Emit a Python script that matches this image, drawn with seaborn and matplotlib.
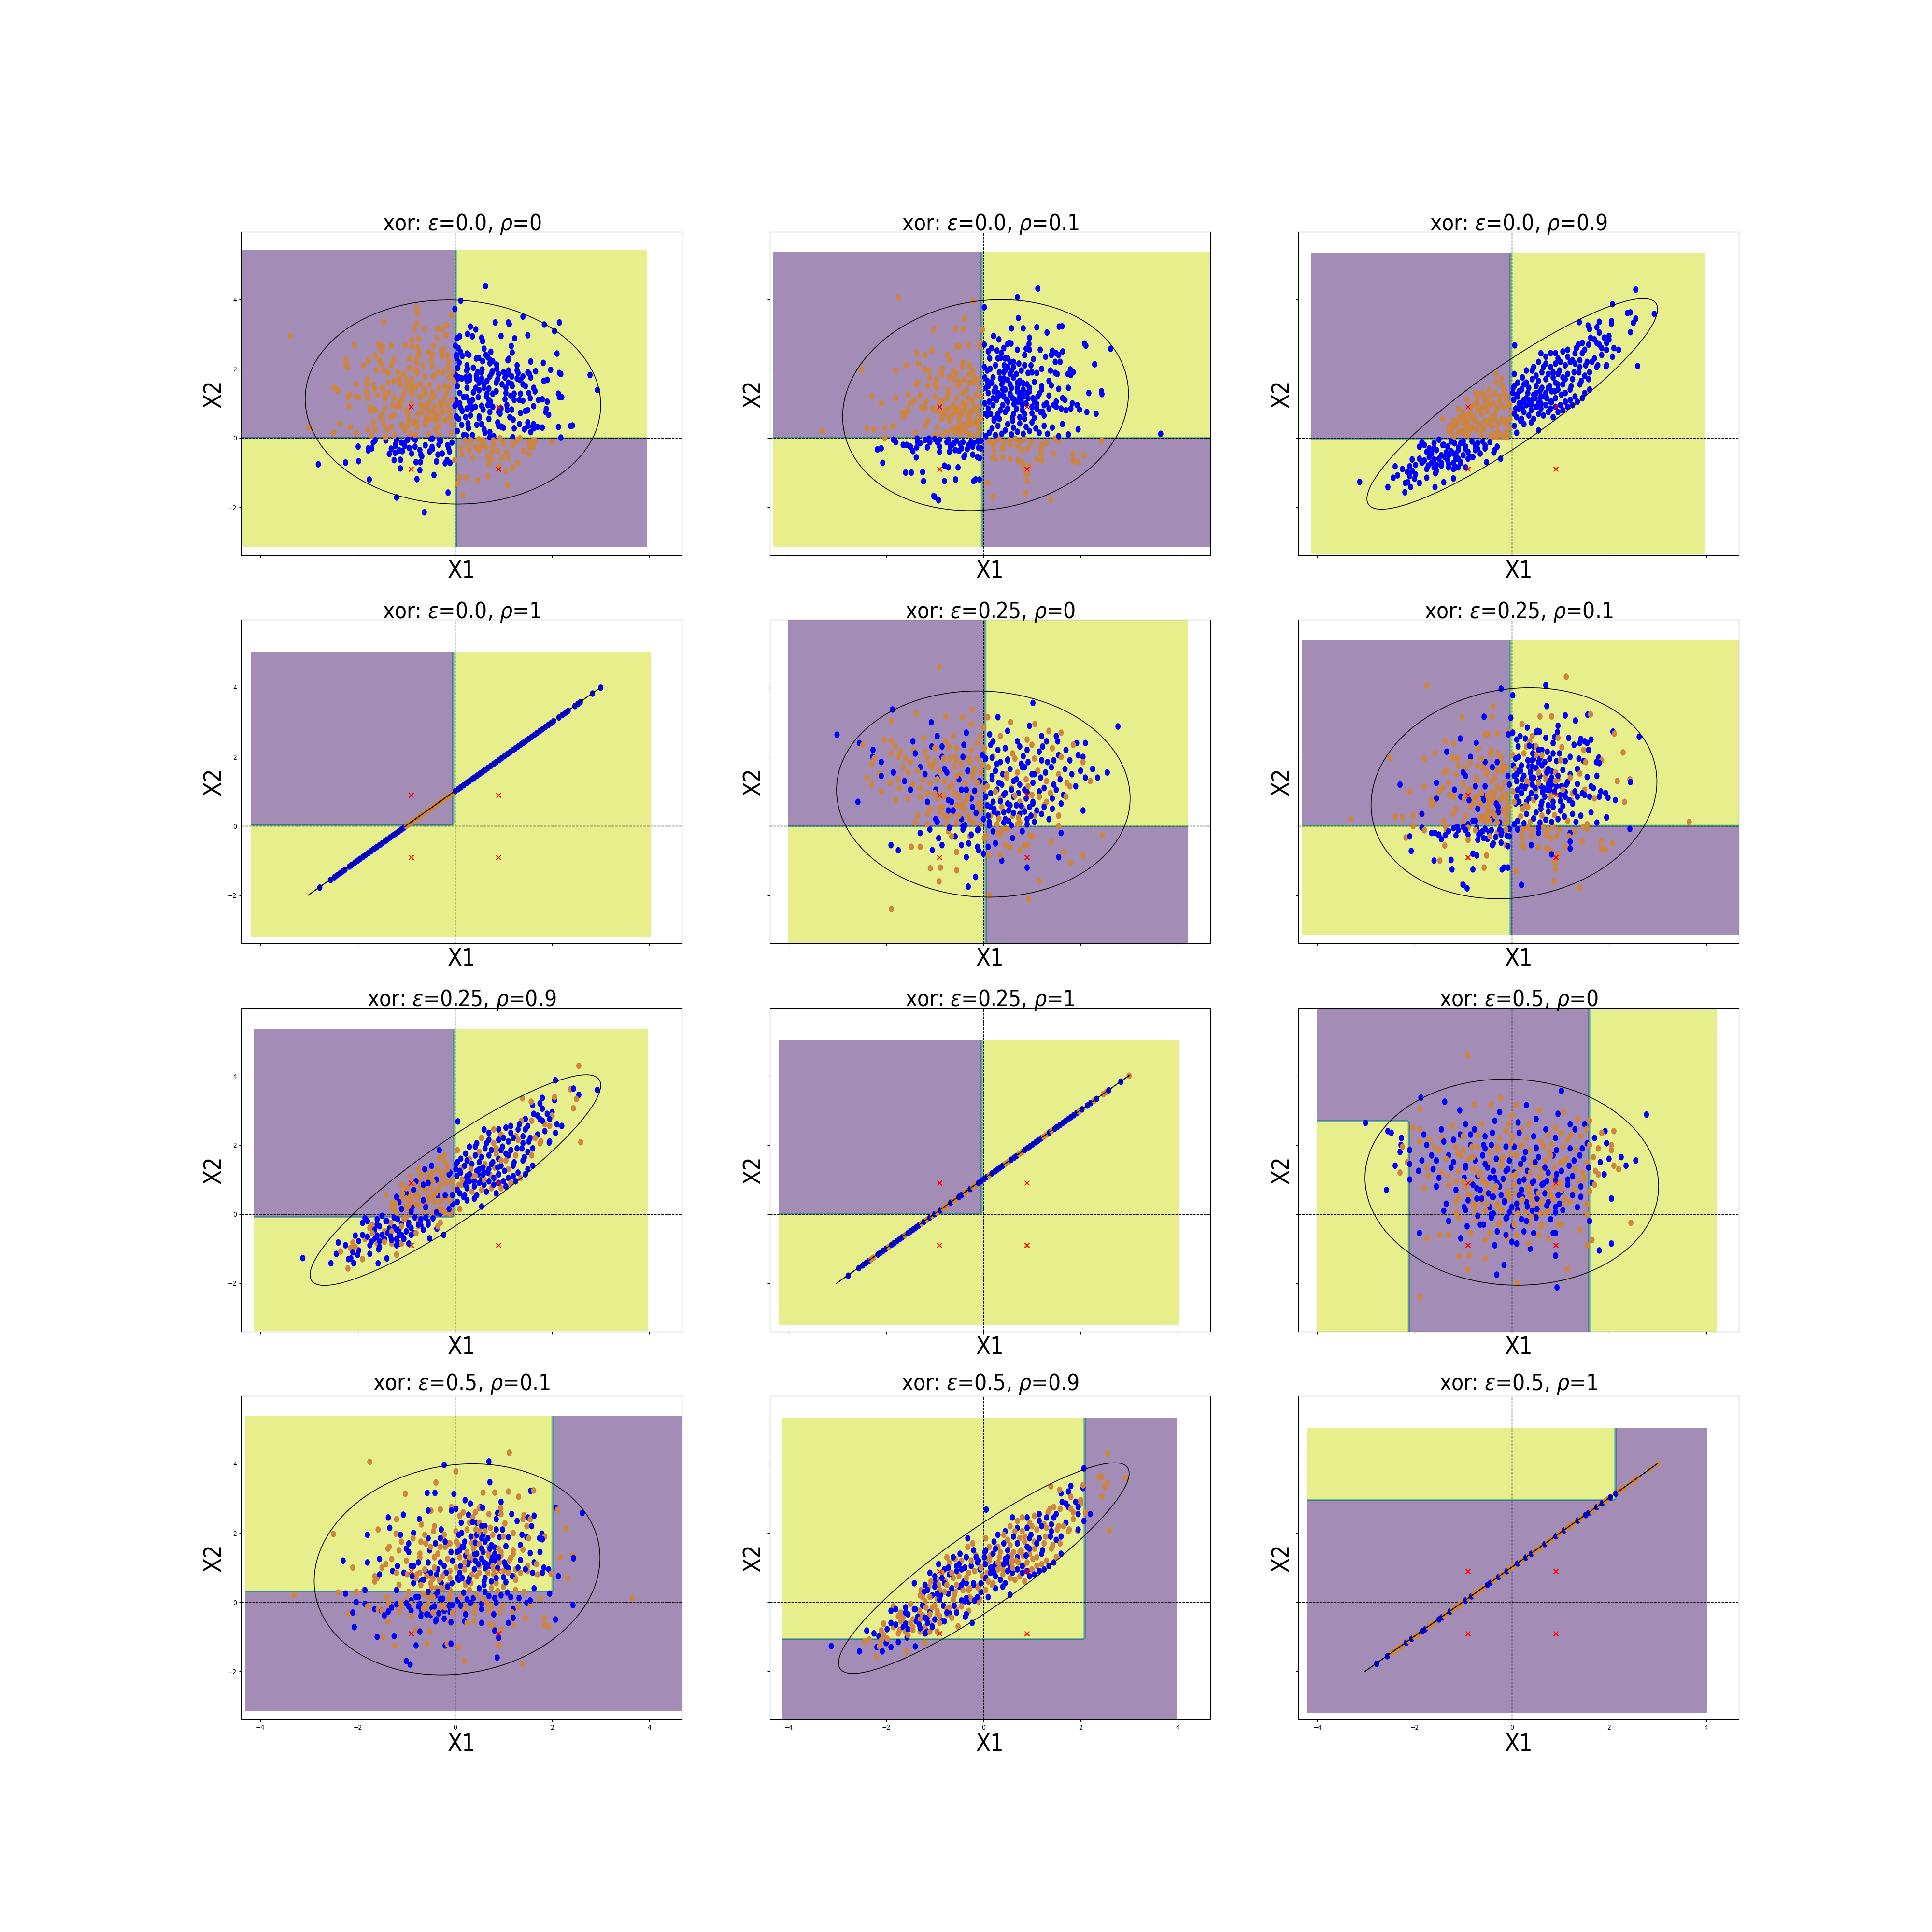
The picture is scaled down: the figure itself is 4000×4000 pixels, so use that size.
import numpy as np
import matplotlib
matplotlib.use("Agg")
import matplotlib.pyplot as plt
import seaborn as sns
from matplotlib.markers import MarkerStyle
from matplotlib.patches import Ellipse
from matplotlib.transforms import Affine2D

plt.rcParams['font.family'] = ['DejaVu Sans']
plt.rcParams['font.stretch'] = 'condensed'
plt.rcParams['mathtext.fontset'] = 'custom'
plt.rcParams['mathtext.rm'] = 'DejaVu Sans:stretch=condensed'
plt.rcParams['mathtext.it'] = 'DejaVu Sans:italic:stretch=condensed'

titles = [r"xor: $\epsilon$=0.0, $\rho$=0", r"xor: $\epsilon$=0.0, $\rho$=0.1", r"xor: $\epsilon$=0.0, $\rho$=0.9",
          r"xor: $\epsilon$=0.0, $\rho$=1", r"xor: $\epsilon$=0.25, $\rho$=0", r"xor: $\epsilon$=0.25, $\rho$=0.1",
          r"xor: $\epsilon$=0.25, $\rho$=0.9", r"xor: $\epsilon$=0.25, $\rho$=1", r"xor: $\epsilon$=0.5, $\rho$=0",
          r"xor: $\epsilon$=0.5, $\rho$=0.1", r"xor: $\epsilon$=0.5, $\rho$=0.9", r"xor: $\epsilon$=0.5, $\rho$=1"]

# Panel 1: points
p1_blue_x = [.63,.12,0,1.4,2.15,1.84,1.1,1.12,.83,.32,.43,2.05,.26,.36,.1,.04,.55,.57,.95,1.23,1.5,1.16,.6,.01,.07,.11,.74,.25,.29,1.18,2.1,.64,.68,.03,.04,.15,.44,.49,1.11,1.09,.57,.73,.78,1.56,1.82,.09,.72,.86,1.28,.06,.25,
 .26,.24,.38,.47,.56,.55,.77,.76,.86,.9,1.0,1.1,1.1,1.28,1.3,1.5,1.53,1.66,1.97,2.15,2.18,2.78,
 .01,.08,.05,.14,.22,.3,.25,.3,.44,.45,.5,.55,.6,.66,.72,.88,.85,.97,1.03,1.1,1.17,1.28,1.34,1.4,1.56,1.4,1.45,1.83,1.9,1.17,
 .05,.25,.43,.5,.6,.7,.38,.66,.78,.85,.02,.1,.18,.24,.3,.36,.48,.65,.7,.73,1.05,1.05,1.18,1.15,1.22,1.22,1.35,1.33,1.4,1.52,1.55,1.62,1.65,1.72,1.8,1.9,2.13,2.15,2.2,2.93,.1,1.03,
 0,.05,.12,.15,.25,.32,.35,.32,.42,.55,.58,.5,.68,.72,.78,.9,.93,.95,1.07,1.08,1.17,1.13,1.2,1.35,1.5,1.45,1.62,1.87,1.88,1.93,.03,.08,.22,.5,.7,1.5,
 .05,.14,.27,.28,.45,.55,.6,.62,.72,.88,.9,.95,1.0,1.22,1.33,1.43,1.5,1.6,1.62,1.56,1.62,1.7,1.8,2.13,2.42,2.38,.18,.23,.36,.72,.8,2.18,1.19,
 -.06,-.32,-.29,-.46,-.5,-.81,-.85,-.97,-1.2,-1.42,-1.64,-1.68,-1.99,-1.78,-1.71,-1.78,-1.1,-1.03,-1.22,-1.22,-1.03,-.94,-.82,-1.31,-1.14,-1.08,-1.35,-1.23,-.89,-.72,-.7,-.68,-.61,-.47,-.46,-.52,-.33,-.15,-.13,-.11,-.26,-.35,-1.25,-1.12,-.8,-.71,-.38,-.2,-.16,-.1,-1.98,-2.25,-2.81,-1.12,-.72,-.43,-.78,-1.76,-.14,-1.2,-.63]
p1_blue_y = [4.39,3.97,3.73,3.51,3.34,3.28,3.34,3.29,3.34,3.22,3.14,3.09,3.01,2.94,2.94,2.88,2.9,2.8,2.95,2.88,2.97,2.66,2.58,2.67,2.6,2.5,2.49,2.44,2.4,2.47,2.44,2.4,2.33,2.39,2.31,2.37,2.3,2.32,2.29,2.25,2.22,2.25,2.22,2.21,2.17,2.18,2.16,2.12,2.1,2.02,2.1,
 2.0,1.95,2.03,1.9,1.98,1.9,1.93,1.88,2.0,1.85,1.9,1.85,1.95,1.95,1.88,1.9,1.86,1.93,1.97,1.88,1.85,1.82,
 1.83,1.75,1.7,1.72,1.75,1.78,1.65,1.68,1.8,1.7,1.6,1.72,1.55,1.65,1.78,1.7,1.6,1.55,1.75,1.6,1.78,1.72,1.68,1.78,1.75,1.55,1.5,1.65,1.68,1.55,
 1.5,1.45,1.45,1.38,1.45,1.43,1.32,1.28,1.28,1.35,1.1,1.3,1.18,1.18,1.05,1.1,1.18,1.2,1.1,1.05,1.45,1.3,1.5,1.22,1.28,1.1,1.28,1.1,1.08,1.3,1.15,1.45,1.35,1.1,1.12,1.05,1.28,1.18,1.18,1.39,1.0,1.12,
 .93,.98,.87,.78,.85,.95,.85,.65,.9,.93,.82,.62,.95,.75,.9,.75,.7,.85,.95,.8,.82,.6,.53,.72,.8,.78,.92,.75,.84,.67,.62,.55,.6,.57,.55,.45,
 .2,.38,.42,.28,.38,.4,.25,.15,.17,.45,.35,.33,.3,.28,.4,.25,.35,.33,.4,.17,.28,.32,.3,.32,.36,.35,.08,.07,.08,.02,.05,.01,.02,
 -.13,-.04,-.09,-.02,-.02,-.05,-.02,-.05,-.05,-.07,-.07,-.13,-.25,-.3,-.3,-.36,-.13,-.13,-.18,-.23,-.23,-.29,-.25,-.31,-.36,-.38,-.46,-.43,-.45,-.35,-.48,-.53,-.21,-.26,-.32,-.39,-.19,-.21,-.29,-.39,-.45,-.48,-.64,-.63,-.7,-.7,-.68,-.73,-.64,-.72,-.67,-.71,-.76,-.88,-.93,-1.07,-1.19,-1.2,-1.58,-1.72,-2.15]
p1_orange_x = [-3.39,-3.0,-2.5,-.79,-.77,-.07,-1.46,-.78,-.17,-.84,-.62,-.36,-.26,-.18,-.36,-.75,-.89,-2.07,-1.58,-1.49,-1.31,-1.02,-.88,-.77,-.44,-1.51,-.75,-.55,-.27,-.24,-1.64,-.74,-.46,-.27,-.16,-2.24,-1.78,-1.56,-1.26,-.94,-.79,-.49,-.12,-2.24,-2.21,-1.87,-1.51,-1.31,-.78,-1.61,-1.46,-1.37,-1.17,-.94,-.82,-.64,-.46,-.15,-1.06,-.76,-.35,-.24,-.06,-1.79,-1.15,-1.0,-.88,-.61,-.44,-.12,-1.82,-2.03,-1.67,-1.37,-1.25,-1.12,-.91,-.7,-.52,-.21,-.03,-2.48,-2.41,-1.65,-1.49,-.82,-.64,-.33,-.12,-1.82,-1.37,-1.06,-.88,-.46,-2.17,-2.19,-2.02,-1.98,-1.79,-1.79,-1.59,-1.43,-1.43,-1.25,-1.09,-.7,-.49,-.21,-.06,-2.18,-1.74,-1.74,-1.64,-1.44,-1.28,-1.12,-.64,-.27,-1.52,-1.52,-1.32,-1.25,-.97,-.76,-.46,-.24,-.09,-2.37,-2.15,-1.67,-1.46,-1.31,-1.09,-.97,-.78,-.78,-.61,-.4,-.33,-.06,-1.79,-1.65,-1.39,-1.03,-2.03,-1.71,-1.43,-1.25,-.92,-.82,-.55,-.33,-.08,
 -1.0,-.9,-.8,-.72,-.6,-.55,-.42,-.3,-.18,-1.15,-1.0,-.9,-.55,-.42,-.28,-.15,-.95,-.68,-.58,-.33,-.15,-1.2,-.6,-.5,-.38,-.12,-.85,-.7,-.4,-.2,
 .21,.33,.49,.58,.79,.93,1.0,1.19,1.28,1.34,1.51,1.61,1.65,2.0,.12,.27,.43,.55,.64,.79,1.19,1.54,1.61,.15,.29,.49,.76,.88,1.06,1.41,1.53,.37,.67,.75,.97,1.11,0,.7,1.29,.9,1.19,1.05,.09,.23,.67,.47,.05,1.08,.16]
p1_orange_y = [2.95,.29,.14,3.76,3.6,3.56,3.36,3.31,3.26,3.14,3.16,3.17,3.15,2.98,2.9,2.87,2.84,2.69,2.71,2.65,2.66,2.69,2.65,2.62,2.67,2.53,2.49,2.49,2.53,2.59,2.39,2.41,2.42,2.37,2.39,2.26,2.25,2.25,2.27,2.29,2.29,2.25,2.21,2.09,2.05,2.1,2.14,2.1,2.17,1.96,1.95,1.87,1.91,2.03,1.96,2.07,2.07,2.03,1.85,1.89,1.9,1.89,1.89,1.71,1.73,1.68,1.71,1.78,1.78,1.75,1.57,1.55,1.53,1.6,1.64,1.55,1.55,1.57,1.53,1.5,1.64,1.46,1.37,1.43,1.45,1.46,1.39,1.45,1.46,1.34,1.32,1.28,1.28,1.32,1.25,1.18,1.21,1.19,1.21,1.14,1.23,1.28,1.14,1.18,1.1,1.18,1.14,1.14,1.1,.92,.89,.78,.82,.86,.96,.93,.93,.96,.68,.57,.61,.68,.71,.68,.75,.75,.61,.41,.32,.46,.41,.32,.39,.36,.46,.31,.39,.53,.36,.39,.25,.25,.24,.23,.14,.07,.02,.07,.12,.09,.11,.11,.14,
 1.45,1.35,1.5,1.2,1.3,1.0,1.2,1.0,1.3,1.05,.8,1.0,.8,.9,.85,.95,.55,.75,.6,.6,.55,.9,.5,.55,.7,.8,.45,.95,.25,.5,
 -.07,-.07,-.04,-.07,-.07,-.01,-.16,-.11,-.07,-.01,-.11,-.07,-.09,-.11,-.29,-.25,-.26,-.21,-.27,-.21,-.21,-.26,-.25,-.46,-.36,-.36,-.41,-.38,-.41,-.38,-.46,-.58,-.55,-.62,-.58,-.57,-.64,-.75,-.73,-.81,-.87,-.95,-1.12,-1.15,-1.1,-1.23,-1.32,-1.37,-1.66]

# rho = 0.1: same points in the eps = 0, 0.25 and 0.5 panels
r01_x = [-3.31,3.65,-1.75,-.22,.7,1.12,.02,-.39,.72,-1.02,
 -.57,-.41,-.02,.58,.82,1.1,1.56,1.62,1.31,.95,
 2.08,2.11,2.62,2.29,.21,-.49,-1.06,.94,.88,.53,
 .32,.5,.57,.42,-.07,.17,.28,.37,.45,-1.37,
 -1.2,-.73,-.69,-.55,-.3,-.42,-.07,.02,.1,.13,
 .7,.85,.95,1.17,1.42,1.5,1.55,1.63,.3,.36,
 .43,.5,.55,.62,.73,.85,.98,1.03,1.28,1.4,1.48,1.58,1.79,1.85,
 -2.5,-1.8,-1.58,-1.34,-1.21,-1.12,-.85,-.86,-.7,-.55,-.44,-.28,-.22,-.12,-.3,-.62,-.95,-1.1,-1.0,-1.38,
 .02,.08,.14,.25,.33,.42,.45,.5,.55,.58,.62,.68,.78,.92,1.0,1.1,1.2,1.38,1.48,1.52,
 1.74,1.8,2.43,2.44,.03,.08,.15,.2,.35,.4,.42,.5,.62,.7,.75,.82,.9,1.05,1.2,1.35,1.4,1.55,
 1.75,2.17,.05,.1,.22,.3,.38,.45,.55,.6,.7,.78,.82,.95,1.02,1.15,1.35,1.5,1.63,1.68,1.83,1.93,
 .03,.12,.2,.27,.4,.5,.63,.72,.8,.88,1.0,1.1,1.25,1.3,1.5,1.6,1.7,1.8,1.98,2.13,2.32,.08,.22,.3,.45,.62,.75,1.22,
 -2.4,-2.25,-2.03,-1.87,-1.85,-1.65,-1.6,-1.55,-1.5,-1.28,-1.2,-1.05,-.98,-.85,-.78,-.6,-.5,-.35,-.2,-.1,
 -2.3,-2.1,-1.8,-1.65,-1.55,-1.42,-1.3,-1.18,-1.0,-.9,-.72,-.55,-.42,-.3,-.15,-.05,-1.35,-1.15,-.95,-.72,-.52,-.35,-.2,-.08,
 -1.4,-1.2,-.95,-.8,-.6,-.38,-.28,-.1,-.7,-.5,-.3,-.15,-1.15,-.85,-.65,-.4,-.22,-.06,-.45,-.25,-.12,-1.0,-.75,-.55,-.3,-.1,-.9,-.5,
 -2.03,-1.85,-1.8,-1.65,-1.58,-1.51,-1.36,-1.2,-1.12,-1.0,-.9,-.72,-.55,-.47,-.3,-.22,-.05,
 -2.18,-2.1,-1.5,-1.45,-1.35,-1.37,-1.15,-.9,-.9,-.68,-.65,-.58,-.5,-.45,-.33,-.2,-.1,
 -1.38,-2.07,-1.6,-1.48,-1.25,-.8,-.72,-.52,-.38,-.22,-.12,-.08,-1.23,-.8,-.57,-.2,-.16,-.08,-1.02,-1.0,-.92,
 .12,.25,.32,.42,.55,.65,.75,.85,.98,1.2,1.3,1.48,1.55,2.43,.2,.22,.4,.55,.7,.8,.92,1.18,1.2,1.45,1.84,
 .2,.25,.4,.55,.72,.8,1.1,1.2,1.84,2.07,.95,.88,.82,.9,1.93,.9,.08,.2,.87,1.39,
 .05,.12,.18,.25,.3,.38,.45,.5,.58,.62,.7,.75,.82,.88,.95,1.0,1.08,1.15,1.25,1.32,1.42,1.55,1.75,1.95,1.63,.22,.6,.85,1.05,.33,
 .1,.15,.2,.28,.35,.42,.5,.55,.6,.68,.75,.8,.85,.92,1.0,1.05,1.12,1.18,1.25,.05,.25,.4,.58,.7,.82,.95,.1,.3,.48,.65,.78,.9,1.1,.18,.38,.55,.72,1.35,1.45,1.2,
 -.1,-.18,-.25,-.32,-.38,-.45,-.5,-.58,-.65,-.72,-.8,-.88,-.1,-.2,-.3,-.4,-.5,-.6,-.15,-.28,-.35,-.48,-.55,-.7,-.62,-.22,-.42,-.75,
 -1.3,-1.1,-.95,-.75,-.6,-.42,-.25,-.12,-.05,-.7,-.4]
r01_y = [.2,.12,4.06,3.97,4.07,4.32,3.78,3.46,3.47,3.14,
 3.16,3.16,3.13,3.17,3.17,3.2,3.22,3.23,3.05,2.9,
 2.73,2.67,2.58,2.13,2.95,2.65,2.53,2.72,2.58,2.75,
 2.85,2.72,2.73,2.6,2.75,2.6,2.53,2.45,2.3,2.45,
 2.4,2.4,2.25,2.65,2.68,2.2,2.65,2.7,2.5,2.3,
 2.55,2.4,2.55,2.55,2.52,2.45,2.4,2.5,2.3,2.32,
 2.1,2.3,2.2,2.2,2.15,2.1,2.1,2.28,2.35,2.4,2.2,2.2,1.98,1.9,
 1.97,1.95,2.1,2.15,1.98,1.95,2.0,1.85,1.75,1.85,2.05,2.1,1.95,1.7,1.85,1.95,1.7,1.75,1.55,1.55,
 2.05,1.95,2.0,2.1,1.9,1.9,1.95,2.05,1.85,1.95,2.05,1.85,1.95,1.88,1.9,1.88,2.0,1.95,1.88,1.85,
 1.85,1.82,1.35,1.27,1.75,1.65,1.6,1.75,1.72,1.62,1.72,1.68,1.75,1.6,1.65,1.58,1.55,1.62,1.5,1.65,1.52,1.42,
 1.45,1.3,1.45,1.3,1.35,1.2,1.25,1.4,1.28,1.15,1.35,1.3,1.2,1.35,1.15,1.28,1.22,1.05,1.15,1.1,1.0,.95,
 1.0,1.05,.95,1.1,.95,1.05,.98,1.05,.95,1.0,.9,.98,.95,1.0,.9,.85,.8,.85,.82,.75,.7,.65,.55,.7,.75,.7,.6,.75,
 .28,.25,.3,.35,.35,.6,.7,.8,1.0,.9,.85,.85,.8,1.05,.8,.9,.75,.95,.85,.9,
 1.2,1.0,1.15,.75,1.25,1.1,1.25,1.05,1.2,1.05,1.3,1.15,1.3,1.15,1.25,1.2,1.6,1.5,1.45,1.4,1.5,1.4,1.6,1.45,
 .15,.35,.3,.15,.2,.4,.55,.35,.6,.55,.6,.5,.5,.55,.25,.2,.4,.55,.15,.1,.1,.08,.15,.15,.1,.2,.05,.3,
 .0,-.05,-.12,-.2,-.2,-.25,-.02,-.06,-.02,-.03,-.05,-.05,-.08,-.17,-.2,-.25,-.08,
 -.33,-.3,-.25,-.38,-.12,-.27,-.27,-.25,-.4,-.25,-.2,-.35,-.37,-.3,-.32,-.15,-.28,
 -.56,-.72,-1.0,-1.0,-.98,-.8,-.85,-.85,-.5,-.48,-.55,-.58,-1.25,-1.25,-1.2,-1.25,-1.2,-1.2,-1.68,-1.7,-1.8,
 -.1,-.1,-.02,-.12,-.05,-.02,-.1,-.02,-.12,-.2,-.15,-.02,-.08,-.08,-.2,-.35,-.3,-.2,-.25,-.35,-.3,-.3,-.45,-.45,-.45,
 -.55,-.6,-.55,-.6,-.65,-.7,-.6,-.65,-.65,-.5,-.8,-1.05,-.82,-1.25,-.7,-1.03,-1.3,-1.7,-1.6,-1.78,
 .05,.15,.28,.08,.35,.12,.22,.4,.1,.3,.18,.42,.12,.32,.2,.45,.28,.15,.35,.12,.3,.05,.1,.25,.4,.5,.5,.55,.58,.55,
 .85,.7,1.15,.6,.8,1.2,.85,1.25,.6,.85,1.2,.8,.7,1.15,.72,1.05,1.2,.75,.65,.7,1.45,1.4,1.45,1.45,1.4,1.45,1.5,1.3,1.1,1.1,1.05,1.3,.85,1.6,1.55,1.55,1.55,.85,.95,1.4,
 .7,.85,.75,.65,.8,.68,.85,.75,.65,.85,.7,.75,1.7,1.75,1.6,1.7,1.6,1.7,.45,.4,.3,.42,.3,.5,.95,1.05,1.0,1.15,
 -.15,-.12,-.12,-.12,-.15,-.12,-.1,-.1,-.3,-.4,-.55]
r01_flip25 = [1,3,5,10,12,13,14,17,21,23,24,26,33,37,41,46,52,58,61,67,70,73,77,80,83,88,92,94,97,101,104,108,113,116,119,123,127,130,134,137,142,146,149,153,158,163,166,170,174,178,182,185,190,193,197,201,206,210,213,217,221,224,229,233,236,240,245,249,252,256,260,264,268,272,275,279,283,288,292,295,299,302,306,310,313,317,322,326,330,335,340,345,350,355,360,363,367,371,375,379,383,387,391,395,399,403,407,411,415,419,423,427,431,435,439,443,447,451,455,459,463]
r01_flip50 = [1,3,5,6,10,11,12,13,14,15,17,18,21,23,26,27,31,33,35,37,39,41,43,46,48,50,52,54,56,58,60,61,64,67,69,70,73,75,77,79,80,83,85,88,90,92,94,97,99,101,104,106,108,110,113,116,118,119,122,123,125,127,130,132,134,137,139,142,144,146,149,151,153,155,158,160,163,166,168,170,172,174,176,178,180,182,185,187,190,193,195,197,199,201,203,206,208,210,213,215,217,219,221,224,226,229,231,233,236,238,240,243,245,247,249,252,254,256,258,260,262,264,266,268,270,272,275,277,279,281,283,285,288,290,292,295,297,299,302,304,306,308,310,313,315,317,320,322,324,326,328,330,332,335,338,341,344,347,350,353,356,359,362,364,366,369,371,373,376,378,380,383,385,387,390,392,394,397,399,401,404,406,408,411,413,415,418,420,422,425,427,429,432,434,436,439,441,443,446,448,450,453,455,457,460,462,464]

# rho = 0: same points in the eps = 0.25 and 0.5 panels
r0_x = [-3.01,-.91,1.02,-1.87,-.77,-.23,2.77,-1.89,.93,.12,
 -.31,-.91,-.16,-1.09,-.88,.9,1.15,-.55,.38,.1,
 -1.38,-1.89,-1.07,-.43,-.25,.09,.3,.56,.95,1.06,
 -2.55,-2.48,-2.04,-2.27,-1.9,-1.81,-1.7,-1.45,-1.22,-.95,
 -1.44,-1.06,-.77,-.62,-.35,-.07,.0,.13,.2,.35,
 .5,.7,.9,1.2,1.22,1.35,1.5,1.53,1.6,1.92,
 2.1,-2.28,-2.3,-2.25,-2.1,-1.9,-1.75,-1.6,-1.4,-1.2,-1.0,-.85,-.7,-.55,-.4,-.25,-.12,.02,.15,.3,
 .45,.6,.75,.9,1.0,1.15,1.3,1.42,1.55,1.7,1.85,2.05,2.25,-2.15,-1.85,-1.65,-1.5,-1.3,-1.15,-1.0,
 -.85,-.7,-.55,-.42,-.28,-.12,.05,.2,.35,.5,.65,.78,.92,1.05,1.2,1.32,1.45,1.6,1.78,1.95,2.05,2.55,-2.4,-2.1,
 -1.75,-1.55,-1.35,-1.2,-1.05,-.9,-.75,-.6,-.48,-.32,-.18,-.05,.1,.25,.4,.55,.7,.85,1.0,1.12,1.28,1.4,1.55,1.68,1.82,2.0,2.2,-2.3,-1.92,-1.62,
 -1.45,-1.25,-1.1,-.95,-.8,-.65,-.5,-.38,-.22,-.08,.05,.18,.32,.48,.62,.75,.88,1.02,1.18,1.3,1.45,1.58,1.72,1.9,2.1,2.35,-2.58,-2.1,-1.72,-1.5,
 -1.3,-1.15,-.98,-.82,-.7,-.58,-.45,-.3,-.15,.02,.15,.28,.42,.58,.72,.85,1.0,1.15,1.25,1.38,1.5,1.65,1.78,-1.8,-1.55,-1.3,-1.15,-.95,-.8,-.65,
 -.5,-.38,-.25,-.1,.05,.2,.35,.5,.62,.75,.88,1.02,1.15,1.3,1.42,1.6,1.7,-1.1,-.9,-.72,-.55,-.4,-.22,-.08,.08,.22,.38,.52,.68,.82,.95,1.1,1.25,1.42,
 -1.35,-1.15,-.98,-.8,-.62,-.45,-.3,-.15,.0,.15,.3,.45,.6,.75,.9,1.05,1.2,1.35,1.55,2.05,-1.4,-1.15,-.95,-.75,-.55,-.38,-.2,-.05,.12,.28,.42,.58,.75,.9,1.05,1.55,
 -1.9,-1.75,-1.48,-1.3,-1.1,-.92,-.72,-.58,-.42,-.28,-.12,.02,.2,.35,.5,.62,.8,1.02,1.4,1.6,1.65,2.05,2.45,-1.3,-1.05,-.85,-.55,-.3,-.1,.1,.45,.75,.9,1.55,1.8,
 -1.1,-.95,-.8,-.68,-.55,-.45,-.35,-.22,-.12,-.02,.08,.18,.28,.38,.48,.58,.68,.8,.92,1.05,
 -1.0,-.85,-.72,-.6,-.48,-.32,-.18,-.08,.05,.15,.25,.35,.45,.55,.65,.78,.9,1.02,1.15,1.25,
 -.9,-.75,-.62,-.5,-.38,-.28,-.15,-.05,.1,.22,.32,.42,.52,.62,.72,.85,.98,-.7,-.42,-.1,.12,.4,.7,
 -.82,-.58,-.3,-.02,.18,.5,.82,-.65,-.25,.05,.3,.6,.95,-.45,-.12,.25,.55,.85,-.35,0,.35]
r0_y = [2.64,4.6,3.56,3.37,3.17,3.36,2.88,-2.4,-2.12,-2.0,
 -1.75,-1.6,-1.47,-1.22,-1.2,-1.2,-1.58,-1.28,-1.0,-.85,
 3.25,3.04,3.0,3.15,2.95,3.15,3.15,3.0,2.9,2.95,
 2.4,2.35,2.5,2.2,2.45,2.3,2.15,2.45,2.55,2.6,
 2.2,2.3,2.45,2.6,2.7,2.6,2.85,2.65,2.45,2.6,
 2.75,2.45,2.5,2.6,2.3,2.75,2.6,2.45,2.7,2.4,
 2.4,2.0,1.8,1.95,1.85,2.1,2.0,1.95,2.1,2.15,2.25,2.3,2.3,2.25,2.35,2.2,2.4,2.25,2.35,2.2,
 2.25,2.1,2.3,2.2,2.35,2.15,2.45,2.25,2.05,2.2,2.35,2.0,1.65,1.5,1.55,1.7,1.85,1.7,1.95,1.85,
 2.0,1.95,1.9,2.0,1.85,1.95,1.95,2.0,1.85,1.9,1.95,1.8,1.85,1.95,1.9,1.85,1.9,2.0,1.9,2.05,1.85,1.55,1.4,1.45,
 1.35,1.55,1.6,1.5,1.7,1.6,1.55,1.7,1.5,1.6,1.65,1.55,1.7,1.6,1.5,1.65,1.55,1.7,1.5,1.6,1.55,1.7,1.5,1.65,1.5,1.6,1.3,1.2,1.25,1.3,
 1.2,1.35,1.25,1.4,1.3,1.2,1.35,1.25,1.4,1.3,1.2,1.35,1.25,1.4,1.3,1.2,1.35,1.25,1.4,1.3,1.2,1.35,1.25,1.15,1.4,1.4,.7,1.0,1.1,1.05,
 1.1,.95,1.05,.9,1.1,.95,1.05,.9,1.0,1.1,.95,1.05,.9,1.1,.95,1.05,.9,1.0,1.1,.95,1.05,.9,1.15,.75,.8,.85,.7,.8,.85,.7,
 .85,.7,.8,.65,.85,.7,.8,.65,.85,.7,.8,.65,.85,.7,.8,.65,.85,.5,.55,.45,.6,.5,.55,.45,.6,.5,.55,.45,.6,.5,.55,.45,.6,.5,
 .3,.35,.2,.3,.35,.2,.3,.35,.2,.3,.35,.2,.3,.35,.2,.3,.35,.2,.3,.45,.1,.05,.12,.05,.1,.02,.1,.05,.12,.05,.1,.02,.1,.05,.12,.0,
 -.55,-.7,-.6,-.2,-.1,-.35,-.15,-.3,-.1,-.3,-.12,-.35,-.15,-.25,-.1,-.32,-.15,-.3,-.45,-.2,-.75,-.85,-.25,-.6,-.7,-.55,-.75,-.5,-.7,-.6,-.55,-.7,-.55,-.9,-1.05,
 1.75,1.35,1.65,1.15,1.45,1.8,1.05,1.55,1.25,1.75,1.15,1.45,1.8,1.2,1.5,1.05,1.35,1.7,1.15,1.5,
 .95,.55,.75,.95,.6,.8,1.02,.65,.85,.55,1.0,.72,.95,.6,.88,.58,.98,.7,.85,.55,
 .4,.25,.45,.3,.5,.2,.38,.48,.3,.42,.22,.4,.15,.38,.25,.42,.3,-.05,.0,-.1,.02,-.08,.05,
 1.95,2.0,1.95,2.05,1.98,1.92,2.02,-.3,-.25,-.3,-.2,-.35,-.28,-.55,-.6,-.5,-.6,-.55,-.9,-.8,-.85]
r0_flip25 = [0,3,7,11,13,14,15,17,18,22,25,27,29,30,33,37,39,41,44,46,49,52,55,58,61,64,68,71,74,77,81,84,87,90,94,97,100,103,107,110,113,117,120,123,127,130,133,136,140,143,146,150,153,157,160,163,167,170,173,176,180,183,186,190,193,197,200,203,206,210,213,216,220,223,227,230,233,236,240,243,246,250,253,257,260,263,266,270,273,277,280,283,286,290,293,296,300,303,307,310,313,317,321,325,329,333,337,341,345,349,353,357,361,365,369,373,377,381,385,389,393,397,401]
r0_flip50 = [0,3,7,8,11,13,14,15,17,18,19,20,22,24,25,27,29,30,31,33,35,37,39,41,42,44,46,48,49,52,54,55,57,58,60,61,62,64,66,68,69,71,73,74,77,79,81,82,84,85,87,90,91,94,95,97,100,102,103,105,107,108,110,111,113,115,117,118,120,122,123,125,127,130,131,133,135,136,138,140,142,143,146,147,150,152,153,155,157,160,161,163,165,167,168,170,173,174,176,178,180,181,183,186,188,190,191,193,195,197,199,200,203,204,206,208,210,212,213,216,218,220,223,224,227,229,230,233,235,236,238,240,243,245,246,248,250,253,255,257,259,260,263,264,266,268,270,273,275,277,279,280,283,285,286,288,290,293,295,296,298,300,303,305,307,309,310,312,314,316,318,320,323,325,327,329,332,334,336,338,341,343,345,347,350,352,354,356,359,361,363,365,368,370,372,374,377,379,381,383,386,388,390,392,395,397,399,401]

# rho = 0.9: same points in the eps = 0, 0.25 and 0.5 panels
r09_x = [2.55,2.07,2.93,2.38,2.44,2.55,2.5,2.44,1.8,1.39,
 -3.13,-2.55,-2.4,-2.44,-2.35,.06,2.59,1.94,1.77,.55,
 2.05,2.05,1.8,1.75,1.6,1.57,1.62,2.0,2.0,1.95,
 1.9,1.85,1.75,1.8,1.7,1.58,1.5,1.45,1.37,1.45,1.33,1.3,1.25,1.15,1.05,.9,.8,.6,.7,.95,
 1.15,1.0,.9,.8,.7,.65,.55,.45,.42,.3,.5,.62,.75,.85,.98,1.1,1.2,1.3,1.4,1.52,
 1.5,1.58,1.43,1.38,1.25,1.15,1.05,.95,.85,.7,.55,.42,.3,.22,.12,.05,.03,1.4,1.22,1.05,
 .9,.78,.62,.5,.35,.25,.15,.05,.95,.82,.7,.58,.45,.33,.2,.1,.02,.72,.6,.48,.35,.25,.12,.04,.82,.55,.4,.2,.08,
 -.02,-.07,-.1,-.15,-.2,-.22,-.32,-.32,-.35,-.45,-.48,-.55,-.58,-.62,-.7,-.72,-.75,-.8,-.85,-.92,-.95,-1.0,-1.1,-1.12,-1.2,-1.28,-1.42,
 -.05,-.12,-.18,-.25,-.3,-.38,-.45,-.5,-.55,-.62,-.7,-.78,-.85,-.92,-1.0,-1.08,-1.15,-1.22,-1.3,-.05,-.12,-.2,-.28,-.35,-.42,-.5,-.58,-.65,-.72,-.8,-.88,-.95,-1.05,-.08,-.18,-.28,-.38,
 -.1,-.3,-.45,-.62,-.9,-1.2,-.35,-.6,-.38,-.25,-.18,-.08,-.12,
 -1.85,-1.8,-1.7,-1.6,-1.5,-1.42,-1.32,-1.25,-1.18,-1.1,-1.0,-.95,-.82,-.75,-.7,-.55,-.55,-.3,-.37,-.52,-.23,
 -1.75,-1.65,-1.55,-1.45,-1.35,-1.25,-1.15,-1.1,-1.0,-.9,-.85,-.75,-.65,-1.9,-1.7,-1.6,-1.5,-1.38,-1.3,-1.2,-1.1,-1.05,
 -2.1,-2.05,-1.98,-1.85,-1.8,-1.72,-1.65,-1.6,-1.55,-1.45,-1.32,-1.3,-1.2,-1.15,-1.1,-1.05,-.95,
 -2.15,-2.1,-2.0,-1.98,-1.9,-1.75,-1.58,-1.4,-1.2,-2.19,-2.14,-2.08,-2.2,-1.57,
 .05,.1,.15,.2,.25,.3,.35,.4,.45,.5,.55,.6,.65,.7,.75,.8,.85,.9,.95,1.0,
 1.05,1.1,1.15,1.2,1.25,1.3,1.35,1.45,1.5,1.6,1.1,1.2,.9,.8,.6,.4,.25,.05,.1,.18,
 1.7,1.85,1.95,2.1,2.2,2.07,1.75,1.6,1.55,1.95,1.65,1.4,1.28,1.1,.95,.75,.5,.3,.15,.68,.88,1.02,.42,.22,.58,
 -2.25,-2.05,-1.9,-1.75,-1.6,-1.45,-1.3,-1.15,-.95,-.8,-.7,-.6,-.45,-.35,-1.55,-1.2,-1.4,-1.05,-.75,-.9,
 -.1,-.2,-.3,-.4,-.55,-.65,-.8,-.9,-1.0,-1.1,-.15,-.25,-.45,-.6,-.75,-.95,-1.25,-.05,-.35,-.5]
r09_y = [4.29,3.87,3.59,3.61,3.63,3.45,3.33,3.06,3.36,3.35,
 -1.27,-1.42,-.82,-1.15,-1.08,2.68,2.08,2.07,2.1,.22,
 3.3,3.38,3.05,3.2,3.15,3.25,2.9,2.95,2.85,2.75,
 2.9,2.6,2.75,2.7,2.85,2.7,2.55,2.75,2.7,2.45,2.6,2.45,2.25,2.55,2.5,2.45,2.45,2.45,2.35,2.3,
 2.35,2.2,2.15,2.05,2.15,2.05,2.2,2.05,1.95,1.95,1.8,1.9,1.85,1.9,1.95,2.1,2.2,2.15,2.25,2.1,
 1.8,1.7,1.65,1.9,1.7,1.85,1.75,1.85,1.75,1.7,1.65,1.7,1.6,1.75,1.6,1.85,1.45,1.55,1.5,1.55,
 1.6,1.5,1.45,1.5,1.45,1.55,1.35,1.5,1.4,1.35,1.3,1.35,1.25,1.3,1.4,1.25,1.3,1.15,1.2,1.15,1.1,1.1,1.2,1.1,1.05,1.0,.95,1.0,.85,
 .75,.95,1.2,1.35,1.5,1.7,1.85,1.6,1.3,1.2,1.4,1.05,1.25,1.3,1.15,1.0,1.3,.95,.85,1.1,.65,.6,.85,.45,.5,.35,.55,
 1.0,1.15,.9,1.05,.85,1.0,.95,.75,.9,.7,.8,.6,.7,.5,.45,.6,.35,.3,.2,.3,.45,.5,.4,.55,.35,.45,.3,.4,.25,.3,.2,.1,.2,.1,.05,.15,.03,
 .02,.02,.05,.08,.08,.02,.12,.2,.05,.1,.05,.1,.15,
 -.12,-.2,-.3,-.15,-.05,-.2,-.25,-.1,-.15,-.28,-.1,-.32,-.1,-.2,-.32,-.22,-.3,-.25,-.42,-.7,-.6,
 -.4,-.45,-.35,-.5,-.42,-.38,-.45,-.35,-.5,-.4,-.55,-.35,-.45,-.25,-.55,-.62,-.6,-.55,-.5,-.45,-.6,-.7,
 -.82,-.62,-.78,-.72,-.65,-.8,-.72,-.85,-.78,-.72,-.65,-.85,-.72,-.85,-.85,-.72,-.85,
 -.98,-1.1,-1.18,-1.05,-1.3,-1.15,-1.42,-1.28,-1.17,-1.3,-1.28,-1.42,-1.57,-1.02,
 .7,.6,.85,.55,.75,.95,.65,.8,.55,.9,.7,.85,.65,.95,.75,.85,.6,.9,.75,.95,
 .8,1.05,.9,1.1,.95,1.2,1.05,1.15,1.3,1.4,1.3,1.4,1.15,1.05,1.0,.45,.4,.35,.15,.5,
 2.3,2.4,2.55,2.6,2.55,2.35,2.05,1.9,2.2,2.1,2.2,2.05,1.9,1.7,1.55,1.45,1.3,1.15,1.0,1.2,1.35,1.25,1.1,.85,1.15,
 -.9,-.95,-.6,-.9,-.3,-.8,-.75,-.6,-.25,-.55,-.15,-.1,-.12,-.35,-.95,-.9,-.2,-.15,-.3,-.6,
 .4,.55,.35,.6,.5,.85,.55,.35,.75,.15,1.3,1.2,.5,.2,.5,.25,.15,.55,.7,1.1]
r09_flip25 = [0,3,6,7,9,14,16,18,21,25,28,31,35,38,42,46,49,53,56,60,63,67,71,74,78,82,85,89,92,96,99,103,107,110,114,118,121,125,129,132,136,140,143,147,151,154,158,162,165,169,173,176,180,184,187,191,195,198,202,206,209,213,217,220,224,228,231,235,239,242,246,250,253,256,260,264,268,272,276,280,284,288,292,296,300,304,308,312,316,320,324,328,332,336,340,344,348,352,356,360,364,368,372]
r09_flip50 = [0,2,3,4,5,6,7,9,13,14,16,17,18,21,22,25,27,28,31,33,35,37,38,40,42,44,46,48,49,51,53,55,56,58,60,62,63,65,67,69,71,72,74,76,78,80,82,84,85,87,89,91,92,94,96,98,99,101,103,105,107,108,110,112,114,116,118,120,121,123,125,127,129,130,132,134,136,138,140,141,143,145,147,149,151,152,154,156,158,160,162,163,165,167,169,171,173,174,176,178,180,182,184,185,187,189,191,193,195,196,198,200,202,204,206,207,209,211,213,215,217,218,220,222,224,226,228,229,231,233,235,237,239,240,242,244,246,248,250,251,253,255,257,259,262,264,266,268,271,273,275,277,280,282,284,286,289,291,293,295,298,300,302,304,307,309,311,313,316,318,320,322,325,327,329,331,334,336,338,340,343,345,347,349,352,354,356,358,361,363,365,367,370,372,374]

# rho = 1: same points in the three panels
r1_x = [-2.78,-2.56,-2.48,-2.42,-2.36,-2.31,-2.26,-2.17,-2.12,-2.06,-2.0,-1.95,-1.89,-1.84,-1.78,-1.72,-1.67,-1.61,-1.55,-1.5,-1.44,-1.39,-1.33,-1.27,-1.22,-1.16,-1.1,-1.05,-1.0,-.95,-.89,-.83,-.78,-.72,-.67,-.61,-.55,-.5,-.44,-.38,-.33,-.27,-.22,-.16,-.1,-.05,.01,.07,.12,.18,.24,.29,.35,.4,.46,.52,.57,.63,.68,.74,.8,.85,.91,.96,1.02,1.08,1.13,1.19,1.24,1.3,1.36,1.41,1.47,1.52,1.58,1.64,1.69,1.75,1.8,1.86,1.92,1.97,2.03,2.14,2.21,2.28,2.33,2.47,2.53,2.58,2.83,3.0]
r1_y = [-1.78,-1.56,-1.48,-1.42,-1.36,-1.31,-1.26,-1.17,-1.12,-1.06,-1.0,-.95,-.89,-.84,-.78,-.72,-.67,-.61,-.55,-.5,-.44,-.39,-.33,-.27,-.22,-.16,-.1,-.05,.0,.05,.11,.17,.22,.28,.33,.39,.45,.5,.56,.62,.67,.73,.78,.84,.9,.95,1.01,1.07,1.12,1.18,1.24,1.29,1.35,1.4,1.46,1.52,1.57,1.63,1.68,1.74,1.8,1.85,1.91,1.96,2.02,2.08,2.13,2.19,2.24,2.3,2.36,2.41,2.47,2.52,2.58,2.64,2.69,2.75,2.8,2.86,2.92,2.97,3.03,3.14,3.21,3.28,3.33,3.47,3.53,3.58,3.83,4.0]
r1_orange25 = [-2.31,-2.26,-1.95,-1.61,-1.27,-1.16,-1.05,-.95,-.83,-.78,-.72,-.61,-.55,-.38,-.33,-.22,-.16,.12,.46,.52,.74,.8,1.24,1.3,1.41,1.97,2.28,2.47,2.53,3.0]
r1_blue50 = [-2.78,-2.56,-2.17,-2.06,-1.84,-1.78,-1.5,-1.44,-1.27,-.95,-.83,-.5,-.44,-.27,-.1,.12,.29,.4,.68,.91,1.08,1.36,1.52,1.58,1.75,1.86,2.03,2.14]

# Ellipses: centre x, centre y, half-width x, half-height y, correlation
ell_p1 = [-.04,1.04,3.04,2.95,-.03]
ell_r0 = [0.0,.925,3.02,2.98,-.04]
ell_r01 = [.045,.95,2.94,3.05,.11]
ell_r09 = [.01,.985,2.99,3.045,.9]
ell_r1 = [-.01,1.005,3.02,3.015,1.0]

# Decision grids: x range, y range, yellow boxes
grid_x = [(-4.39,3.92),(-4.32,4.72),(-4.13,3.94),(-4.2,4.0),(-4.01,4.19),(-4.32,4.72),
          (-4.13,3.94),(-4.2,4.0),(-4.01,4.19),(-4.32,4.72),(-4.13,3.94),(-4.2,4.0)]
grid_y = [(-3.15,5.4),(-3.14,5.33),(-3.36,5.31),(-3.19,5.01),(-3.4,6.0),(-3.14,5.33),
          (-3.36,5.31),(-3.2,5.02),(-3.4,6.0),(-3.14,5.33),(-3.37,5.3),(-3.19,5.01)]
boxes = [[(.03,9,0,9),(-9,.03,-9,0)],[(-.01,9,0,9),(-9,-.01,-9,0)],[(-.02,9,-9,9),(-9,-.02,-9,.0)],[(-.02,9,-9,9),(-9,-.02,-9,0)],
         [(.02,9,-.03,9),(-9,.02,-9,-.03)],[(-.01,9,0,9),(-9,-.01,-9,0)],[(-.02,9,-9,9),(-9,-.02,-9,-.06)],[(-.02,9,-9,9),(-9,-.02,-9,0)],
         [(1.58,9,-9,9),(-9,-2.13,-9,2.72)],[(-9,2.0,.3,9)],[(-9,2.1,-1.04,9)],[(-9,2.12,2.99,9)]]

cross_x = [-.9,-.9,.9,.9]
cross_y = [-.9,.9,-.9,.9]


def paired(x, y):
    n = min(len(x), len(y))
    return list(x[:n]), list(y[:n])


p1_blue_x, p1_blue_y = paired(p1_blue_x, p1_blue_y)
p1_orange_x, p1_orange_y = paired(p1_orange_x, p1_orange_y)
r01_x, r01_y = paired(r01_x, r01_y)
r0_x, r0_y = paired(r0_x, r0_y)
r09_x, r09_y = paired(r09_x, r09_y)
r1_x, r1_y = paired(r1_x, r1_y)


def xor_labels(x, y):
    x, y = np.asarray(x), np.asarray(y)
    return np.where((x < 0) != (y < 0), 'o', 'b')


def flipped(labels, idx):
    out = labels.copy()
    for i in idx:
        if i < len(out):
            out[i] = 'b' if out[i] == 'o' else 'o'
    return out


def near(x, values):
    return np.array([np.min(np.abs(np.array(values) - v)) < .012 for v in x])


r01_l0 = xor_labels(r01_x, r01_y)
r0_l0 = xor_labels(r0_x, r0_y)
r09_l0 = xor_labels(r09_x, r09_y)
r1_l0 = xor_labels(r1_x, r1_y)

panels = [
    (p1_blue_x + p1_orange_x, p1_blue_y + p1_orange_y, np.array(['b'] * len(p1_blue_x) + ['o'] * len(p1_orange_x)), ell_p1),
    (r01_x, r01_y, r01_l0, ell_r01),
    (r09_x, r09_y, r09_l0, ell_r09),
    (r1_x, r1_y, r1_l0, ell_r1),
    (r0_x, r0_y, flipped(r0_l0, r0_flip25), ell_r0),
    (r01_x, r01_y, flipped(r01_l0, r01_flip25), ell_r01),
    (r09_x, r09_y, flipped(r09_l0, r09_flip25), ell_r09),
    (r1_x, r1_y, np.where(near(r1_x, r1_orange25), 'o', 'b'), ell_r1),
    (r0_x, r0_y, flipped(r0_l0, r0_flip50), ell_r0),
    (r01_x, r01_y, flipped(r01_l0, r01_flip50), ell_r01),
    (r09_x, r09_y, flipped(r09_l0, r09_flip50), ell_r09),
    (r1_x, r1_y, np.where(near(r1_x, r1_blue50), 'b', 'o'), ell_r1),
]

fig, axes = plt.subplots(4, 3, sharex=True, sharey=True, figsize=(40, 40), dpi=100)
dot = MarkerStyle('o', transform=Affine2D().scale(.8, 1.0))

for k, ax in enumerate(axes.flat):
    px, py, lab, ell = panels[k]
    xs = np.arange(grid_x[k][0], grid_x[k][1] + .06, .06)
    ys = np.arange(grid_y[k][0], grid_y[k][1] + .06, .06)
    xx, yy = np.meshgrid(xs, ys)
    zz = np.zeros(xx.shape)
    for x0, x1, y0, y1 in boxes[k]:
        zz[(xx >= x0) & (xx < x1) & (yy >= y0) & (yy < y1)] = 1
    ax.contourf(xx, yy, zz, cmap='viridis', alpha=.5)
    ax.axhline(0, color='k', ls='--', lw=1)
    ax.axvline(0, color='k', ls='--', lw=1)
    sns.scatterplot(x=np.array(px), y=np.array(py), hue=lab, hue_order=['o', 'b'],
                    palette={'o': 'peru', 'b': 'blue'}, marker=dot, s=95, linewidth=0,
                    legend=False, ax=ax, zorder=3)
    sns.scatterplot(x=cross_x, y=cross_y, color='red', marker='x', s=50, linewidth=1.5,
                    legend=False, ax=ax, zorder=4)
    mx, my, sx, sy, p = ell
    e = Ellipse((0, 0), 2 * np.sqrt(1 + p), 2 * np.sqrt(max(1 - p, 0)), facecolor='none', edgecolor='k', lw=1.2, zorder=5)
    e.set_transform(Affine2D().rotate_deg(45).scale(sx, sy).translate(mx, my) + ax.transData)
    ax.add_patch(e)
    ax.set_title(titles[k], fontsize=33, pad=2.5)
    ax.set_xlabel('X1', fontsize=35, labelpad=2.5, visible=True)
    ax.set_ylabel('X2', fontsize=35, visible=True)
    ax.set_xlim(-4.39, 4.67)
    ax.set_ylim(-3.39, 5.96)
    ax.set_xticks([-4, -2, 0, 2, 4])
    ax.set_yticks([-2, 0, 2, 4])

fig.savefig('out.png', dpi=100)
